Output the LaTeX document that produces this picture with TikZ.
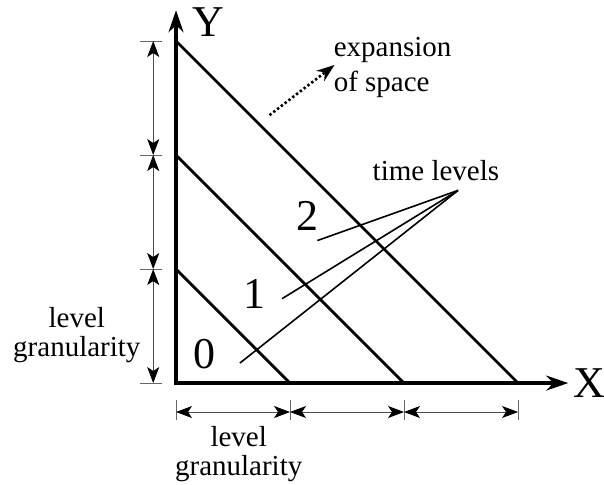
\documentclass[tikz,border=0pt]{standalone}
\usepackage{fontspec}
\setmainfont{Liberation Serif}
\usetikzlibrary{arrows.meta}
\tikzset{
    axisline/.style={
        line width=1.6pt,
        {Stealth[length=11pt, width=7.5pt]}-{Stealth[length=11pt, width=7.5pt]}
    },
    levelline/.style={line width=1.4pt},
    % thin dimension arrows with filled heads
    dimarrow/.style={
        line width=0.4pt,
        black!70,
        {Stealth[length=8pt, width=6pt, inset=2pt, black]}-{Stealth[length=8pt, width=6pt, inset=2pt, black]}
    },
    dimtick/.style={line width=0.4pt, black!60},
    pointer/.style={line width=0.8pt},
    spacearrow/.style={
        line width=1.3pt,
        dash pattern=on 1.2pt off 1.2pt,
        -{Stealth[length=9pt, width=6.5pt]}
    },
    biglabel/.style={font=\fontsize{22}{26}\selectfont, inner sep=0pt},
    textlabel/.style={font=\fontsize{14.5}{14.5}\selectfont, align=center, inner sep=0pt}
}

\begin{document}
\begin{tikzpicture}[x=57pt, y=57pt]
	\useasboundingbox (-1.544,-0.886) rectangle (3.754,3.36);

	\coordinate (O) at (0,0);
	\coordinate (ytip) at (0,3.27);
	\coordinate (xtip) at (3.44,0);

	% level lines
	\foreach \k in {1,2,3} {
		\coordinate (y\k) at (0,\k);
		\coordinate (x\k) at (\k,0);
		\draw[levelline] (y\k) -- (x\k);
	}

	\draw[axisline] (ytip) -- (O) -- (xtip);
	\node[biglabel] (ylab) at (0.28,3.17) {Y};
	\node[biglabel] (xlab) at (3.63,0) {X};

	% dimension marks
	\foreach \k in {0,...,3} {
		\coordinate (vd\k) at (-0.2,\k);
		\coordinate (hd\k) at (\k,-0.254);
		\draw[dimtick] (-0.32,\k) -- (-0.12,\k);
		\draw[dimtick] (\k,-0.15) -- (\k,-0.32);
	}
	\foreach \a/\b in {0/1,1/2,2/3} {
		\draw[dimarrow] (vd\a) -- (vd\b);
		\draw[dimarrow] (hd\a) -- (hd\b);
	}

	\node[textlabel] (vgran) at (-0.87,0.42) {level\\granularity};
	\node[textlabel] (hgran) at (0.55,-0.62) {level\\granularity};

	% expansion of space
	\coordinate (dotstart) at (0.82,2.35);
	\coordinate (dotend) at (1.39,2.79);
	\draw[spacearrow] (dotstart) -- (dotend);
	\node[textlabel, font=\fontsize{14.5}{17.5}\selectfont, align=left, anchor=west] (expand) at (1.38,2.77) {expansion\\of space};

	% time levels
	\node[textlabel] (tlevels) at (2.28,1.86) {time levels};
	\coordinate (meet) at (2.474,1.69);

	\node[biglabel] (lev0) at (0.246,0.254) {0};
	\node[biglabel] (lev1) at (0.69,0.78) {1};
	\node[biglabel] (lev2) at (1.15,1.47) {2};
	\coordinate (p0) at (0.56,0.175);
	\coordinate (p1) at (0.93,0.74);
	\coordinate (p2) at (1.24,1.25);
	\draw[pointer] (p0) -- (meet);
	\draw[pointer] (p1) -- (meet);
	\draw[pointer] (p2) -- (meet);
\end{tikzpicture}
\end{document}
